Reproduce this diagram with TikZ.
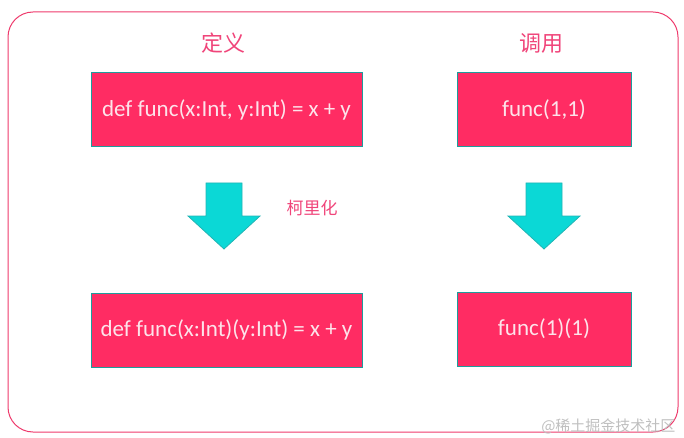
\documentclass[tikz,border=0pt]{standalone}
\usepackage{fontspec}
\setmainfont{Carlito}
\newfontfamily\cjk{Noto Sans CJK SC}
\usepackage{xcolor}
\usepackage{tikz}
\usetikzlibrary{positioning}

\definecolor{boxred}{HTML}{FF2C63}
\definecolor{boxedge}{HTML}{1E9C9C}
\definecolor{arrowcyan}{HTML}{0BD8D6}
\definecolor{arrowedge}{HTML}{22B4B4}
\definecolor{frame}{HTML}{EE3A6C}
\definecolor{labelred}{HTML}{F0457A}
\definecolor{boxtext}{HTML}{FDE3EA}

\begin{document}
\begin{tikzpicture}[
  x=1pt, y=-1pt,
  codebox/.style={rectangle, draw=boxedge, fill=boxred, line width=1pt,
    text=boxtext, minimum height=74pt, inner sep=0pt,
    font=\fontsize{23}{27}\selectfont},
  title/.style={text=labelred, font=\cjk\fontsize{22}{26}\selectfont},
  bigarrow/.style={fill=arrowcyan, draw=arrowedge, line width=0.8pt, line join=miter},
]
\useasboundingbox (0,0) rectangle (684,438);

  % Frame
  \draw[frame, line width=1pt, rounded corners=25pt] (8,12) rectangle (678,432);

  % Nodes
  \node[title] (def)  at (223,43) {定义};
  \node[title] (call) at (541,43) {调用};

  \node[codebox, minimum width=271pt] (d1) at (226.5,110) {def func(x:Int, y:Int) = x + y};
  \node[codebox, minimum width=174pt] (c1) at (544,110)   {func(1,1)};
  \node[codebox, minimum width=271pt] (d2) at (226.5,330) {def func(x:Int)(y:Int) = x + y};
  \node[codebox, minimum width=174pt] (c2) at (544,329)   {func(1)(1)};

  \node[title, font=\cjk\fontsize{17}{20}\selectfont] (curry) at (312,208) {柯里化};

  % Arrows
  \draw[bigarrow] (206,183) -- (242,183) -- (242,216) -- (260,216) -- (224,249)
    -- (188,216) -- (206,216) -- cycle;
  \draw[bigarrow] (526,183) -- (562,183) -- (562,216) -- (580,216) -- (544,249)
    -- (508,216) -- (526,216) -- cycle;

  % Watermark
  \node[text=black!25, font=\cjk\fontsize{15}{17}\selectfont, anchor=east] (mark) at (679,426) {@稀土掘金技术社区};

\end{tikzpicture}
\end{document}
